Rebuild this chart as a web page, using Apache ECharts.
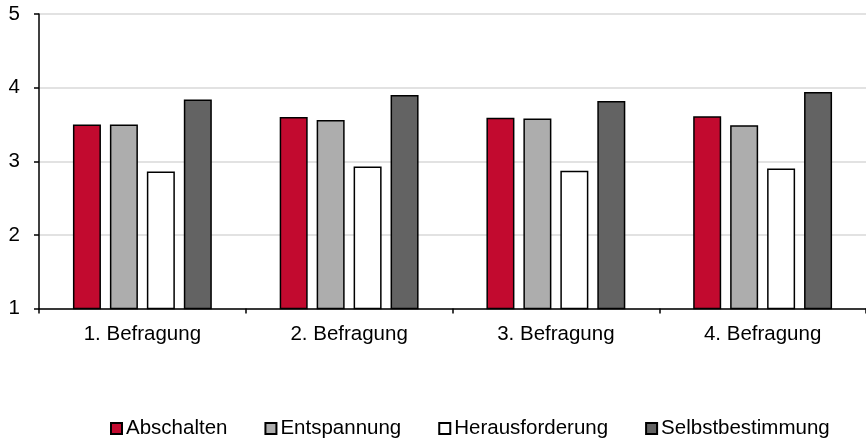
<!DOCTYPE html>
<html>
<head>
<meta charset="utf-8">
<script src="https://cdn.jsdelivr.net/npm/echarts@6/dist/echarts.min.js"></script>
<style>
  html, body { margin: 0; padding: 0; background: #fff; }
  #chart { width: 866px; height: 439px; }
</style>
</head>
<body>
<div id="chart"></div>
<script>
// Survey waves on the x axis
const categories = ['1. Befragung', '2. Befragung', '3. Befragung', '4. Befragung'];

// Mean scores per dimension and wave
const abschalten       = [3.50, 3.60, 3.59, 3.61];
const entspannung      = [3.50, 3.56, 3.58, 3.49];
const herausforderung  = [2.86, 2.93, 2.87, 2.90];
const selbstbestimmung = [3.84, 3.90, 3.82, 3.94];

const seriesNames = ['Abschalten', 'Entspannung', 'Herausforderung', 'Selbstbestimmung'];
const seriesData = [abschalten, entspannung, herausforderung, selbstbestimmung];
const seriesColors = ['#c20a2f', '#adadad', '#ffffff', '#636363'];

const font = 'Liberation Sans, Arial, sans-serif';
const fontSize = 20.5;

const chart = echarts.init(document.getElementById('chart'));
chart.setOption({
  animation: false,
  backgroundColor: '#ffffff',
  grid: { left: 39, right: 0, top: 14, bottom: 130.5, containLabel: false },
  legend: {
    top: 413,
    left: 105,
    padding: 5,
    itemWidth: 11,
    itemHeight: 11,
    itemGap: 37,
    icon: 'rect',
    textStyle: { fontFamily: font, fontSize: fontSize, color: '#000', padding: [0, 0, 0, -1] },
    data: seriesNames
  },
  xAxis: {
    type: 'category',
    data: categories,
    axisLine: { lineStyle: { color: '#000', width: 1.5 } },
    axisTick: { show: true, length: 5, lineStyle: { color: '#000', width: 1.5 } },
    axisLabel: { fontFamily: font, fontSize: fontSize, color: '#000', margin: 15 }
  },
  yAxis: {
    type: 'value',
    min: 1,
    max: 5,
    interval: 1,
    axisLine: { show: true, lineStyle: { color: '#000', width: 1.5 } },
    axisTick: { show: true, length: 5, lineStyle: { color: '#000', width: 1.5 } },
    axisLabel: { fontFamily: font, fontSize: fontSize, color: '#000', margin: 19 },
    splitLine: { lineStyle: { color: '#d9d9d9', width: 1.5 } }
  },
  series: seriesNames.map((name, i) => ({
    name: name,
    type: 'bar',
    data: seriesData[i],
    barWidth: 28,
    barGap: '32%',
    itemStyle: { color: seriesColors[i], borderColor: '#000', borderWidth: 1.5 }
  }))
});
</script>
</body>
</html>
